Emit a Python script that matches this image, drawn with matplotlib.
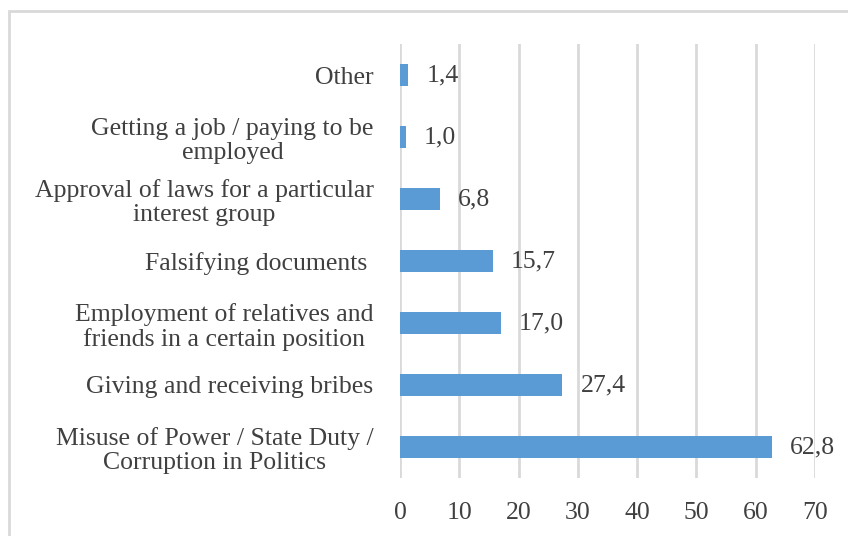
import matplotlib.pyplot as plt
from matplotlib.patches import Rectangle

categories = ["Misuse of Power / State Duty /\nCorruption in Politics",
              "Giving and receiving bribes",
              "Employment of relatives and\nfriends in a certain position",
              "Falsifying documents ",
              "Approval of laws for a particular\ninterest group",
              "Getting a job / paying to be\nemployed",
              "Other"]
values = [62.8, 27.4, 17.0, 15.7, 6.8, 1.0, 1.4]
value_labels = ["62,8", "27,4", "17,0", "15,7", "6,8", "1,0", "1,4"]
xticks = [0, 10, 20, 30, 40, 50, 60, 70]

plt.rcParams['font.family'] = ['Liberation Serif', 'DejaVu Serif']
txt = "#404040"
grid = "#D9D9D9"
fs = 18.5

fig = plt.figure(figsize=(8.48, 5.36), dpi=100)
ax = fig.add_axes([400/848, 1-478/536, 415/848, 434/536])

y = range(len(categories))
ax.barh(y, values, height=0.36, color="#5B9BD5", zorder=3)
for i, v in enumerate(values):
    ax.annotate(value_labels[i], (v, i), xytext=(13, 0), textcoords="offset points",
                va="center", ha="left", fontsize=fs, color=txt)

ax.set_xlim(0, 70)
ax.set_ylim(-0.5, len(categories) - 0.5)
ax.set_xticks(xticks)
ax.set_yticks(list(y))
ax.set_yticklabels(categories, fontsize=fs, color=txt, multialignment="center", linespacing=1.12)
ax.tick_params(axis="x", labelsize=fs, labelcolor=txt, length=0, pad=17)
ax.tick_params(axis="y", length=0, pad=19)
ax.grid(axis="x", color=grid, linewidth=2, zorder=0)
for s in ax.spines.values():
    s.set_visible(False)

fig.patches.append(Rectangle((9/848, -0.1), 1.0, 1 - 11/536 + 0.1, transform=fig.transFigure,
                             fill=False, edgecolor=grid, linewidth=2))

fig.savefig("out.png", dpi=100)
